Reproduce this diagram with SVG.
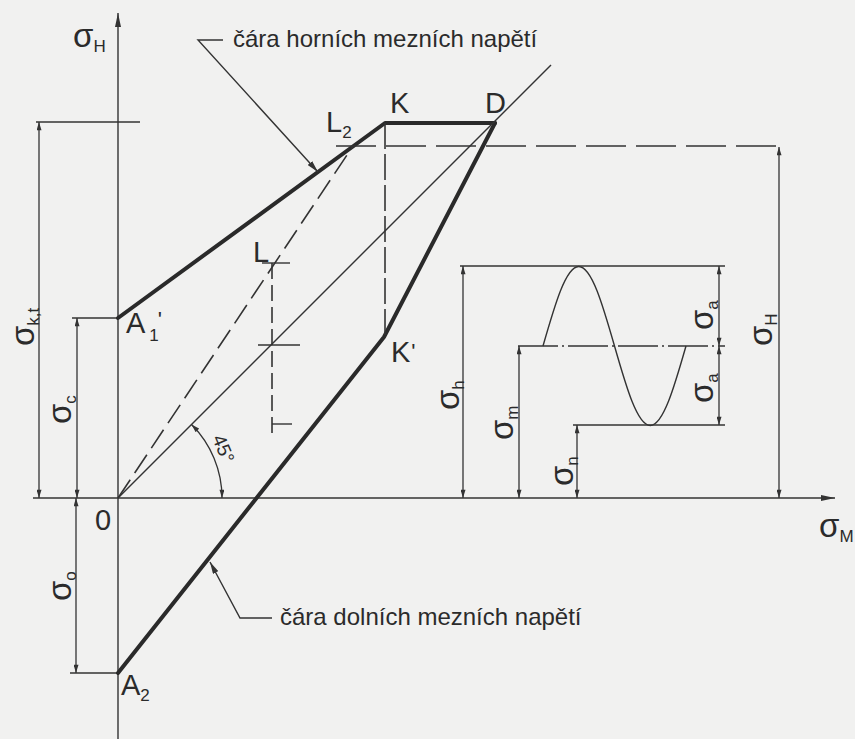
<svg xmlns="http://www.w3.org/2000/svg" width="855" height="739" viewBox="0 0 855 739">
<defs>
<marker id="ar" viewBox="0 0 10 6" refX="10" refY="3" markerWidth="9" markerHeight="5" markerUnits="userSpaceOnUse" orient="auto-start-reverse"><path d="M0,0 L10,3 L0,6 z" fill="#333"/></marker>
<marker id="ax" viewBox="0 0 14 6" refX="14" refY="3" markerWidth="14" markerHeight="6" markerUnits="userSpaceOnUse" orient="auto"><path d="M0,0 L14,3 L0,6 z" fill="#333"/></marker>
<marker id="ld" viewBox="0 0 12 6" refX="12" refY="3" markerWidth="12" markerHeight="6" markerUnits="userSpaceOnUse" orient="auto"><path d="M0,0 L12,3 L0,6 z" fill="#333"/></marker>
</defs>
<style>
.t{font-family:"Liberation Sans",Arial,sans-serif;fill:#2b2b2b}
.big{font-size:29px}
.lab{font-size:24px}
.sg{font-size:33px}
.sb{font-size:17px}
.pr{font-size:22px}
.thin{stroke:#333;stroke-width:1.4;fill:none}
.thick{stroke:#2a2a2a;stroke-width:4;fill:none;stroke-linejoin:round;stroke-linecap:round}
.dim{stroke:#333;stroke-width:1.3;fill:none;marker-start:url(#ar);marker-end:url(#ar)}
.dsh{stroke:#333;stroke-width:1.6;fill:none}
</style>
<rect width="855" height="739" fill="#f1f1f0"/>

<g id="axes">
<line class="thin" x1="118" y1="739" x2="118" y2="13" marker-end="url(#ax)"/>
<line class="thin" x1="33" y1="498" x2="835" y2="498" marker-end="url(#ax)"/>
<text class="t" x="73" y="47"><tspan class="sg">σ</tspan><tspan class="sb" dy="5">H</tspan></text>
<text class="t" x="819" y="537"><tspan class="sg">σ</tspan><tspan class="sb" dy="5">M</tspan></text>
<text class="t big" x="95" y="530">0</text>
</g>

<g id="extension-lines">
<line class="thin" x1="36" y1="122" x2="140" y2="122"/>
<line class="thin" x1="72" y1="318" x2="118" y2="318"/>
<line class="thin" x1="70" y1="673" x2="118" y2="673"/>
<line class="thin" x1="460" y1="266" x2="725" y2="266"/>
<line class="thin" x1="573" y1="425" x2="725" y2="425"/>
<line class="thin" x1="518" y1="346" x2="725" y2="346" stroke-dasharray="40,4,2,4"/>
</g>

<g id="connectors">
<polyline class="thick" points="118,318 385,123 495,123"/>
<polyline class="thick" points="118,673 384,337 495,123"/>
<line class="thin" x1="118" y1="498" x2="551" y2="65"/>
<line class="dsh" x1="118" y1="498" x2="353" y2="146" stroke-dasharray="22,8"/>
<line class="dsh" x1="385" y1="123" x2="385" y2="337" stroke-dasharray="26,5"/>
<line class="dsh" x1="336" y1="146" x2="785" y2="146" stroke-dasharray="40,10"/>
<line class="dsh" x1="272" y1="263" x2="272" y2="437" stroke-dasharray="16,6"/>
<line class="thin" x1="262" y1="263" x2="290" y2="263"/>
<line class="thin" x1="258" y1="345" x2="300" y2="345"/>
<line class="thin" x1="272" y1="424" x2="292" y2="424"/>
<path class="thin" d="M543,346 C554.66,305.27 565.81,266.5 578.75,266.5 C591.69,266.5 602.84,305.27 614.5,346 C626.16,386.73 637.31,425.5 650.25,425.5 C663.19,425.5 674.34,386.73 686,346"/>
<path class="dim" d="M191.5,424.5 A104,104 0 0 1 222,498"/>
<line class="dim" x1="39" y1="122" x2="39" y2="498"/>
<line class="dim" x1="77" y1="318" x2="77" y2="498"/>
<line class="dim" x1="76" y1="498" x2="76" y2="673"/>
<line class="dim" x1="463" y1="266" x2="463" y2="498"/>
<line class="dim" x1="519" y1="346" x2="519" y2="498"/>
<line class="dim" x1="577" y1="425" x2="577" y2="498"/>
<line class="dim" x1="719" y1="266" x2="719" y2="346"/>
<line class="dim" x1="719" y1="346" x2="719" y2="425"/>
<line class="dim" x1="779" y1="147" x2="779" y2="498"/>
<polyline class="thin" points="223,40 198,40 318,172" marker-end="url(#ld)"/>
<polyline class="thin" points="272,618 240,618 210,562" marker-end="url(#ld)"/>
</g>

<g id="point-labels">
<text class="t big" x="390" y="113">K</text>
<text class="t big" x="485" y="113">D</text>
<text class="t big" x="326" y="132">L<tspan class="sb" dy="6">2</tspan></text>
<text class="t big" x="253" y="262">L</text>
<text class="t big" x="391" y="362">K<tspan class="pr" dx="1" dy="-3">'</tspan></text>
<text class="t big" x="126" y="333">A<tspan class="sb" dx="4" dy="8">1</tspan><tspan class="pr" dx="-1" dy="-14">'</tspan></text>
<text class="t big" x="121" y="695">A<tspan class="sb" dy="6">2</tspan></text>
<text class="t" style="font-size:19px" transform="translate(212,438) rotate(67.5)">45°</text>
</g>

<g id="dimension-labels">
<text class="t" transform="translate(34,346) rotate(-90)"><tspan class="sg">σ</tspan><tspan class="sb" dy="5">k,t</tspan></text>
<text class="t" transform="translate(71,424) rotate(-90)"><tspan class="sg">σ</tspan><tspan class="sb" dy="5">c</tspan></text>
<text class="t" transform="translate(71,601) rotate(-90)"><tspan class="sg">σ</tspan><tspan class="sb" dy="5">o</tspan></text>
<text class="t" transform="translate(459,410) rotate(-90)"><tspan class="sg">σ</tspan><tspan class="sb" dy="5">h</tspan></text>
<text class="t" transform="translate(513,440) rotate(-90)"><tspan class="sg">σ</tspan><tspan class="sb" dy="5">m</tspan></text>
<text class="t" transform="translate(573,486) rotate(-90)"><tspan class="sg">σ</tspan><tspan class="sb" dy="5">n</tspan></text>
<text class="t" transform="translate(713,330) rotate(-90)"><tspan class="sg">σ</tspan><tspan class="sb" dy="5">a</tspan></text>
<text class="t" transform="translate(713,403) rotate(-90)"><tspan class="sg">σ</tspan><tspan class="sb" dy="5">a</tspan></text>
<text class="t" transform="translate(772,346) rotate(-90)"><tspan class="sg">σ</tspan><tspan class="sb" dy="5">H</tspan></text>
</g>

<g id="captions">
<text class="t lab" x="233" y="47">čára horních mezních napětí</text>
<text class="t lab" x="280" y="625">čára dolních mezních napětí</text>
</g>
</svg>
